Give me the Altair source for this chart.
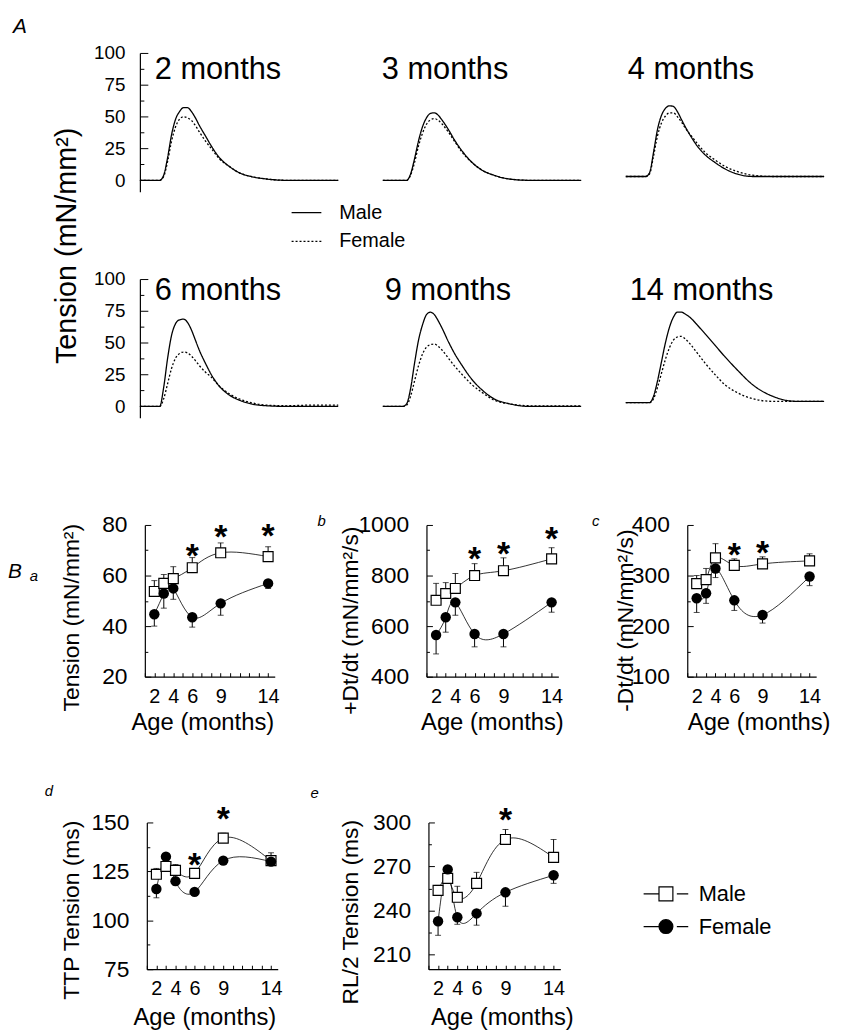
import altair as alt
import pandas as pd

FONT = "Liberation Sans"

# ---------------- Panel A: twitch traces (tension, mN/mm2, vs time, ms) ----------------
T_MS = [0, 100, 120, 140, 160, 180, 200, 220, 240, 260, 280, 300, 330, 360, 400, 450, 500, 560, 640, 740, 860, 1000]
M_2MO = [0, 0, 4, 18, 36, 48, 54, 57, 57, 54, 49, 43, 35, 27, 18, 11, 6, 3, 1, 0, 0, 0]
F_2MO = [0, 0, 3, 15, 31, 42, 48, 50, 49, 47, 43, 38, 31, 25, 17, 11, 6, 3, 1, 0, 0, 0]
M_3MO = [0, 0, 0, 5, 17, 31, 42, 49, 52.5, 53, 51, 47, 40, 32, 23, 14, 8, 4, 1, 0, 0, 0]
F_3MO = [0, 0, 0, 4, 14, 27, 37, 44, 47.5, 48.5, 47, 44, 38, 31, 22, 14, 8, 4, 1, 0, 0, 0]
M_4MO = [3, 3, 6, 22, 40, 51, 56.5, 58.5, 58, 54, 48, 42, 34, 27, 20, 14, 9, 5, 3, 3, 3, 3]
F_4MO = [3, 3, 5, 19, 35, 45, 50.5, 53, 53, 50, 46, 41, 35, 29, 22, 16, 11, 7, 4, 3, 3, 3]
M_6MO = [0, 0, 15, 38, 56, 65, 68, 68.5, 66, 60, 52, 44, 34, 25, 16, 9, 5, 2, 0.5, 0, 0, 0]
F_6MO = [0, 0, 6, 18, 30, 38, 41.5, 42.7, 42, 39.5, 36, 32, 27, 23, 16, 10, 6, 3, 1, 0.5, 1, 1]
M_9MO = [0, 0, 2, 14, 34, 52, 64, 72, 74, 72, 67, 61, 51, 42, 32, 21, 13, 6, 2, 0, 0, 0]
F_9MO = [0, 0, 1, 8, 20, 32, 41, 46.5, 48.5, 49, 47, 44, 38, 32, 25, 17, 11, 5, 2, 0.5, 0.5, 0.5]
M_14MO = [3, 3, 3, 8, 20, 35, 50, 62, 70, 74, 74, 72.5, 69, 64, 57, 48, 39, 29, 17, 8, 4, 4]
F_14MO = [3, 3, 3, 6, 15, 26, 37, 46, 52, 54.5, 55, 53, 48, 42, 34, 25, 17, 11, 6, 4, 4, 4]

SEXES = ["Male", "Female"]

# ---------------- Panel B: means and SEM vs age ----------------
MONTHS = [2, 3, 4, 6, 9, 14]
AGE_TICKS = list(range(1, 15))
AGE_LABELS = [2, 4, 6, 9, 14]

TENS_M = [53.7, 56.9, 58.8, 63.1, 69.0, 67.5]
TENS_M_SEM = [4.3, 3.5, 4.7, 4.0, 3.9, 3.9]
TENS_F = [44.7, 52.9, 54.9, 43.5, 49.0, 56.9]
TENS_F_SEM = [4.7, 5.8, 4.3, 3.9, 4.7, 2.0]
TENS_STAR_X = [6, 9, 14]
TENS_STAR_Y = [71, 78.5, 78.8]

PDT_M = [702, 729, 749, 800, 819, 866]
PDT_M_SEM = [67, 43, 59, 47, 51, 44]
PDT_F = [565, 635, 694, 569, 569, 694]
PDT_F_SEM = [75, 59, 51, 51, 51, 39]
PDT_STAR_X = [6, 9, 14]
PDT_STAR_Y = [898, 918, 976]

NDT_M = [284, 292, 335, 320, 323, 329]
NDT_M_SEM = [16, 22, 28, 13, 14, 14]
NDT_F = [255, 265, 314, 251, 222, 298]
NDT_F_SEM = [28, 20, 18, 20, 16, 18]
NDT_STAR_X = [6, 9]
NDT_STAR_Y = [357, 361]

TTP_M = [123.5, 127.5, 125.5, 124, 142, 130.5]
TTP_M_SEM = [3, 3, 3, 2, 2.5, 4]
TTP_F = [116, 132.5, 120, 114.5, 130.5, 130]
TTP_F_SEM = [4.5, 2, 2, 1.5, 1.5, 2]
TTP_STAR_X = [6, 9]
TTP_STAR_Y = [132.5, 156]

RL_M = [253.7, 261.9, 249, 258.5, 288.4, 276.2]
RL_M_SEM = [3.4, 5.4, 7.5, 7.5, 6.8, 12.2]
RL_F = [232.7, 268, 235.4, 238, 252.4, 264]
RL_F_SEM = [9.6, 5, 4.8, 8, 9.5, 5.5]
RL_STAR_X = [9]
RL_STAR_Y = [306.8]

MALE_SYMBOL = "M-2.25,0H-0.7M-0.7,-0.7H0.7V0.7H-0.7ZM1.1,0H2.25"
FEMALE_SYMBOL = "M-2.25,0H-0.7M1.1,0H2.25M-0.7,0A0.7,0.7 0 1,1 0.7,0A0.7,0.7 0 1,1 -0.7,0Z"


def is_one_of(vals):
    return " || ".join(f"datum.value == {v}" for v in vals)


def spacer(w, h, ttl=None):
    c = alt.Chart(pd.DataFrame({"s": [0]})).mark_point(opacity=0, size=0)
    if ttl is not None:
        return c.properties(width=w, height=h, title=ttl)
    return c.properties(width=w, height=h)


def title(text, dx, dy, size, italic=False):
    return alt.TitleParams(text, anchor="start", frame="group", offset=0, dx=dx, dy=dy,
                           baseline="alphabetic", fontSize=size, font=FONT,
                           fontStyle="italic" if italic else "normal",
                           fontWeight="normal", color="black")


def a_yaxis(with_title):
    kw = dict(
        values=[0, 12.5, 25, 37.5, 50, 62.5, 75, 87.5, 100], format="d",
        labelExpr="datum.value % 25 === 0 ? datum.label : ''",
        tickSize={"expr": "datum.value % 25 === 0 ? -8 : -4"},
        labelPadding=23, labelFontSize=19, labelFlush=False, labelOverlap=False,
        domainWidth=1.2, tickWidth=1,
    )
    if with_title:
        kw.update(title="Tension (mN/mm²)", titleFontSize=29, titleX=-65, titleY=194,
                  titleAlign="center", titleBaseline="alphabetic", titleAngle=270)
    else:
        kw.update(title=None)
    return alt.Axis(**kw)


A_LEGEND = alt.Legend(
    orient="none", legendX=157, legendY=150, title=None,
    symbolType="M-1.5,0H1.5", symbolSize=400, symbolStrokeWidth=1.3,
    symbolStrokeColor="black", labelFontSize=20, labelFont=FONT,
    labelColor="black", labelOffset=22, rowPadding=8,
)


def a_panel(m, f, name, dx, dy, yaxis=None, legend=None):
    n = len(T_MS)
    df = pd.DataFrame({"t": T_MS + T_MS, "v": m + f, "sex": ["Male"] * n + ["Female"] * n})
    return alt.Chart(df).mark_line(color="black", strokeWidth=1.3, interpolate="monotone").encode(
        x=alt.X("t:Q", scale=alt.Scale(domain=[0, 1000], nice=False, zero=False), axis=None),
        y=alt.Y("v:Q", scale=alt.Scale(domain=[-9, 100], nice=False, zero=False), axis=yaxis),
        strokeDash=alt.StrokeDash("sex:N", scale=alt.Scale(domain=SEXES, range=[[1, 0], [2, 2]]),
                                  legend=legend),
    ).properties(width=200, height=140, title=title(name, dx, dy, 31))


def b_panel(mm, sm, mf, sf, sx, sy, ydom, ymaj, ymin, ytitle, xr, h, letter, ldx, ldy,
            ytx, yty, xtx, xty, lp=24, legend=None):
    n = len(MONTHS)
    df = pd.DataFrame({
        "month": MONTHS + MONTHS,
        "sex": ["Male"] * n + ["Female"] * n,
        "v": mm + mf,
        "e": [a + b for a, b in zip(mm, sm)] + [a - b for a, b in zip(mf, sf)],
    })
    major = is_one_of(ymaj)
    yaxis = alt.Axis(
        values=sorted(ymaj + ymin), format="d", offset=-xr[0],
        labelExpr=f"({major}) ? datum.label : ''",
        tickSize={"expr": f"({major}) ? -6 : -3"},
        labelPadding=lp, labelFontSize=23, labelFlush=False, labelOverlap=False,
        domainWidth=1.2, tickWidth=1,
        title=ytitle, titleFontSize=23, titleX=ytx, titleY=yty,
        titleAlign="center", titleBaseline="alphabetic", titleAngle=270,
    )
    xaxis = alt.Axis(
        values=AGE_TICKS, format="d",
        labelExpr=f"({is_one_of(AGE_LABELS)}) ? datum.label : ''",
        tickSize={"expr": "-4"}, labelPadding=14, labelFontSize=20,
        labelFlush=False, labelOverlap=False, domainWidth=1.2, tickWidth=1,
        title="Age (months)", titleFontSize=24, titleX=xtx, titleY=xty,
        titleAlign="center", titleBaseline="alphabetic",
    )
    xs = alt.Scale(domain=[1, 14.7], range=xr, nice=False, zero=False)
    ys = alt.Scale(domain=ydom, nice=False, zero=False)

    def X():
        return alt.X("month:Q", scale=xs, axis=xaxis)

    def Y(field):
        return alt.Y(field, scale=ys, axis=yaxis)

    lines = alt.Chart(df).mark_line(interpolate="natural", color="black", strokeWidth=0.8).encode(
        x=X(), y=Y("v:Q"), detail="sex:N")
    rules = alt.Chart(df).mark_rule(color="black", strokeWidth=1).encode(
        x=X(), y=Y("v:Q"), y2="e:Q")
    caps = alt.Chart(df).mark_tick(color="black", thickness=1, size=6, orient="horizontal").encode(
        x=X(), y=Y("e:Q"))
    males = alt.Chart(df).transform_filter("datum.sex == 'Male'").mark_point(
        shape="square", filled=True, fill="white", stroke="black", strokeWidth=1.2,
        size=100, opacity=1).encode(x=X(), y=Y("v:Q"))
    females = alt.Chart(df).transform_filter("datum.sex == 'Female'").mark_point(
        shape="circle", filled=True, fill="black", size=110, opacity=1).encode(x=X(), y=Y("v:Q"))
    stars = alt.Chart(pd.DataFrame({"month": sx, "y": sy})).mark_text(
        text="*", fontSize=34, fontWeight="bold", font=FONT, baseline="alphabetic",
        dy=19, color="black").encode(x=X(), y=Y("y:Q"))
    layers = [lines, rules, caps, males, females, stars]
    if legend is not None:
        lg = alt.Legend(orient="none", legendX=legend[0], legendY=legend[1], title=None,
                        symbolSize=400, symbolStrokeColor="black", symbolStrokeWidth=1.2,
                        symbolOpacity=1, labelFontSize=22, labelFont=FONT, labelColor="black",
                        labelOffset=22, rowPadding=11)
        leg = alt.Chart(pd.DataFrame({"lg": SEXES})).mark_point(
            filled=True, stroke="black", strokeWidth=1.2, opacity=0).encode(
            shape=alt.Shape("lg:N", scale=alt.Scale(domain=SEXES, range=[MALE_SYMBOL, FEMALE_SYMBOL]),
                            legend=lg),
            fill=alt.Fill("lg:N", scale=alt.Scale(domain=SEXES, range=["white", "black"]), legend=lg),
            stroke=alt.Stroke("lg:N", scale=alt.Scale(domain=SEXES, range=["black", "black"]), legend=lg),
        )
        layers.append(leg)
    return alt.layer(*layers).properties(width=200, height=h, title=title(letter, ldx, ldy, 15, True))


# ---------------- assemble ----------------
p2 = a_panel(M_2MO, F_2MO, "2 months", 15, 66.5, yaxis=a_yaxis(True), legend=A_LEGEND)
p3 = a_panel(M_3MO, F_3MO, "3 months", -1, 57)
p4 = a_panel(M_4MO, F_4MO, "4 months", 2, 57)
p6 = a_panel(M_6MO, F_6MO, "6 months", 15, 61.5, yaxis=a_yaxis(False))
p9 = a_panel(M_9MO, F_9MO, "9 months", 2, 52)
p14 = a_panel(M_14MO, F_14MO, "14 months", 4, 52)

pa = b_panel(TENS_M, TENS_M_SEM, TENS_F, TENS_F_SEM, TENS_STAR_X, TENS_STAR_Y,
             [20, 80], [20, 40, 60, 80], [30, 50, 70], "Tension (mN/mm²)", [5, 136], 153,
             "a", -111, 82.5, -67, 93, 63, 53)
pb = b_panel(PDT_M, PDT_M_SEM, PDT_F, PDT_F_SEM, PDT_STAR_X, PDT_STAR_Y,
             [400, 1000], [400, 600, 800, 1000], [500, 700, 900], "+Dt/dt (mN/mm²/s)", [44, 177], 153,
             "b", -66, 27.5, -70, 96, 110, 53)
pc = b_panel(NDT_M, NDT_M_SEM, NDT_F, NDT_F_SEM, NDT_STAR_X, NDT_STAR_Y,
             [100, 400], [100, 200, 300, 400], [150, 250, 350], "-Dt/dt (mN/mm²/s)", [62, 192], 153,
             "c", -34, 27.5, -55, 96, 134, 53)
pd_ = b_panel(TTP_M, TTP_M_SEM, TTP_F, TTP_F_SEM, TTP_STAR_X, TTP_STAR_Y,
              [75, 150], [75, 100, 125, 150], [87.5, 112.5, 137.5], "TTP Tension (ms)", [7, 139], 148,
              "d", -96, 8, -69, 88, 65, 56)
pe = b_panel(RL_M, RL_M_SEM, RL_F, RL_F_SEM, RL_STAR_X, RL_STAR_Y,
             [200, 300], [210, 240, 270, 300], [225, 255, 285], "RL/2 Tension (ms)", [46, 179], 148,
             "e", -73, 8, -72, 90, 120, 56, legend=(274.5, 61))

cells = [
    p2, p3, p4,
    spacer(1, 88), spacer(1, 88), spacer(1, 88),
    p6, p9, p14,
    spacer(1, 108, title("B", -133, 182, 21, True)), spacer(1, 108), spacer(1, 108),
    pa, pb, pc,
    spacer(1, 147), spacer(1, 147), spacer(1, 147),
    pd_, pe, spacer(1, 148),
]

chart = alt.concat(
    *cells, columns=3, spacing={"row": 0, "column": 45}, bounds="flush", align="each",
    title=title("A", -128, 10, 21, True),
).resolve_scale(shape="independent", fill="independent", stroke="independent").properties(
    padding={"left": 0, "top": 4, "right": 5, "bottom": 0}
).configure_view(stroke=None).configure_axis(
    grid=False, labelFont=FONT, titleFont=FONT, labelColor="black", titleColor="black",
    domainColor="black", tickColor="black", titleFontWeight="normal",
)

chart.save("out.html", embed_options={"renderer": "svg", "actions": False})
